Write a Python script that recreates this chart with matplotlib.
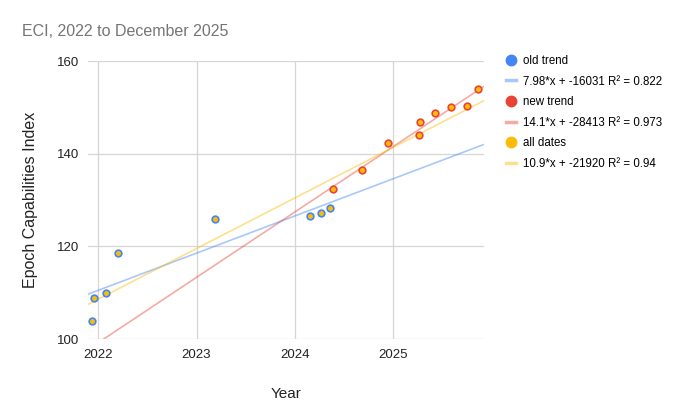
import numpy as np
import matplotlib
matplotlib.use("Agg")
import matplotlib.pyplot as plt
from matplotlib.lines import Line2D

plt.rcParams['font.family'] = ['Liberation Sans', 'DejaVu Sans']

# decimal year, ECI value
old_x = [2021.939, 2021.952, 2022.074, 2022.200, 2023.190, 2024.154, 2024.265, 2024.357]
old_y = [103.95, 108.9, 109.9, 118.6, 125.9, 126.55, 127.26, 128.27]
new_x = [2024.390, 2024.689, 2024.950, 2025.262, 2025.279, 2025.428, 2025.588, 2025.757, 2025.866]
new_y = [132.3, 136.4, 142.2, 143.96, 146.77, 148.71, 150.0, 150.22, 154.0]

labels = ["old trend", "7.98*x + -16031 R² = 0.822",
          "new trend", "14.1*x + -28413 R² = 0.973",
          "all dates", "10.9*x + -21920 R² = 0.94"]
xticks = [2022, 2023, 2024, 2025]
yticks = [100, 120, 140, 160]

BLUE, RED, YELLOW = "#4285f4", "#ea4335", "#fbbc04"

fig = plt.figure(figsize=(6.8, 4.2), dpi=100)
ax = fig.add_axes([88/680, 1-339/420, (484-88)/680, (339-61)/420])

xlim = (2021.895, 2025.926)
xs = np.linspace(xlim[0], xlim[1], 50)
all_x = old_x + new_x
all_y = old_y + new_y
for px, py, c in [(old_x, old_y, BLUE), (new_x, new_y, RED), (all_x, all_y, YELLOW)]:
    k, b = np.polyfit(px, py, 1)
    ax.plot(xs, k*xs + b, color=c, alpha=0.45, lw=1.2, zorder=2, solid_capstyle='butt')

ax.plot(old_x, old_y, 'o', color=BLUE, ms=6, mew=0, zorder=3)
ax.plot(new_x, new_y, 'o', color=RED, ms=6, mew=0, zorder=3)
ax.plot(all_x, all_y, 'o', color=YELLOW, ms=3.6, mew=0, zorder=4)

ax.set_xlim(*xlim)
ax.set_ylim(100, 160)
ax.set_xticks(xticks)
ax.set_yticks(yticks)
ax.grid(True, color="#d6d6d6", lw=0.9)
ax.set_axisbelow(True)
for s in ax.spines.values():
    s.set_visible(False)
ax.tick_params(length=0, labelsize=9.5, colors="#222222")
ax.tick_params(axis='x', pad=7)
ax.tick_params(axis='y', pad=6)
ax.set_xlabel("Year", fontsize=11, labelpad=19, color="#222222")
ax.set_ylabel("Epoch Capabilities Index", fontsize=11.5, labelpad=14, color="#222222")

fig.text(22/680, 1-32/420, "ECI, 2022 to December 2025", fontsize=11.5,
         color="#757575", va='center', ha='left')

handles = [
    Line2D([], [], marker='o', ls='', color=BLUE, ms=7.5),
    Line2D([], [], color=BLUE, alpha=0.45, lw=2.5),
    Line2D([], [], marker='o', ls='', color=RED, ms=7.5),
    Line2D([], [], color=RED, alpha=0.45, lw=2.5),
    Line2D([], [], marker='o', ls='', color=YELLOW, ms=7.5),
    Line2D([], [], color=YELLOW, alpha=0.45, lw=2.5),
]
fig.legend(handles, labels, loc='upper left', bbox_to_anchor=(506/680, 1-55/420),
           frameon=False, fontsize=8.3, handlelength=0.9, handletextpad=0.6,
           labelspacing=0.74, borderaxespad=0, borderpad=0)

fig.savefig("out.png", dpi=100)
